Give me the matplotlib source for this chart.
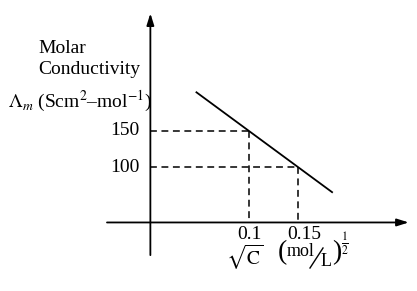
import matplotlib
matplotlib.use("Agg")
import matplotlib.pyplot as plt
from matplotlib.lines import Line2D

plt.rcParams['font.family'] = ['Liberation Serif', 'DejaVu Serif']
plt.rcParams['mathtext.fontset'] = 'stix'

# data
x_points = [0.1, 0.15]
y_points = [150, 100]
x_tick_labels = ["0.1", "0.15"]
y_tick_labels = ["150", "100"]
line_x = [0.046, 0.185]
line_y = [204, 65]
baseline = 24  # level of the horizontal axis in data units

W, H = 417, 291
fig = plt.figure(figsize=(W / 100, H / 100), dpi=100)
ax = fig.add_axes([0, 0, 1, 1])
ax.set_xlim(-0.1525, 0.2704)
ax.set_ylim(-70.4, 330.4)
ax.axis('off')


def fpos(px, py):
    """pixel position (from top-left) to figure fraction"""
    return px / W, 1 - py / H


lw = 1.3
# axes with arrows
ax.annotate('', xy=(0.262, baseline), xytext=(-0.044, baseline),
            arrowprops=dict(arrowstyle='-|>,head_length=0.7,head_width=0.22',
                            color='black', lw=lw, shrinkA=0, shrinkB=0))
ax.annotate('', xy=(0, 312), xytext=(0, -21),
            arrowprops=dict(arrowstyle='-|>,head_length=0.7,head_width=0.22',
                            color='black', lw=lw, shrinkA=0, shrinkB=0))

# main line
ax.plot(line_x, line_y, color='black', lw=lw, solid_capstyle='butt')

# dashed guides
for xp, yp in zip(x_points, y_points):
    ax.plot([0, xp], [yp, yp], color='black', lw=1.1, dashes=(4.5, 3))
    ax.plot([xp, xp], [yp, baseline], color='black', lw=1.1, dashes=(4.5, 3))

fs = 14
for yp, lab in zip(y_points, y_tick_labels):
    ax.text(-0.011, yp, lab, ha='right', va='center', fontsize=fs)
for xp, lab in zip(x_points, x_tick_labels):
    ax.text(xp + (0.0 if lab == "0.1" else 0.006), baseline - 17, lab,
            ha='center', va='center', fontsize=fs)

# y label
ax.text(-0.114, 264, "Molar", ha='left', va='center', fontsize=fs)
ax.text(-0.114, 234, "Conductivity", ha='left', va='center', fontsize=fs)
ax.text(-0.144, 190, r"$\Lambda_m$ (Scm$^2$–mol$^{-1}$)", ha='left',
        va='center', fontsize=fs)

# x label
ax.text(0.096, baseline - 48, r"$\sqrt{\mathrm{C}}$", ha='center',
        va='center', fontsize=fs)

# (mol / L)^(1/2) built from pieces
fig.text(*fpos(282.5, 253), "(", ha='center', va='center', fontsize=20)
fig.text(*fpos(336.5, 253), ")", ha='center', va='center', fontsize=20)
fig.text(*fpos(301, 251), "mol", ha='center', va='center', fontsize=13)
fig.text(*fpos(326.5, 262), "L", ha='center', va='center', fontsize=13)
x0, y0 = fpos(310, 268)
x1, y1 = fpos(323, 248)
fig.add_artist(Line2D([x0, x1], [y0, y1], transform=fig.transFigure,
                      color='black', lw=1.0))
fig.text(*fpos(345, 244), r"$\frac{1}{2}$", ha='center', va='center',
         fontsize=12)

fig.savefig("out.png", dpi=100)
